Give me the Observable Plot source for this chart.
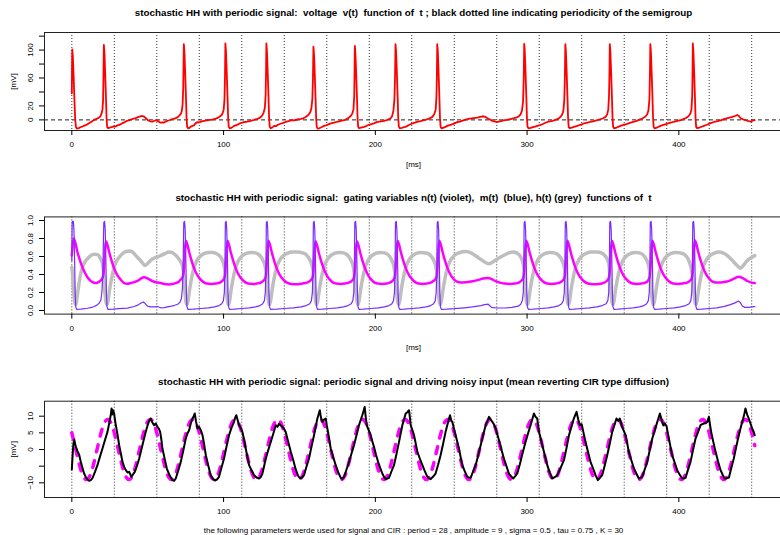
<!DOCTYPE html>
<html><head><meta charset="utf-8">
<script src="https://cdn.jsdelivr.net/npm/d3@7"></script>
<script src="https://cdn.jsdelivr.net/npm/@observablehq/plot@0.6"></script>
<style>
html,body{margin:0;padding:0;background:#fff;overflow:hidden;}
#root{position:relative;width:780px;height:535px;overflow:hidden;background:#fff;}
#root svg{position:absolute;left:0;}
svg text{white-space:pre;}
</style></head><body><div id="root"></div>
<script>
// ---------- data ----------
const periodLines = [0,28,56,84,112,140,168,196,224,252,280,308,336,364,392,420,448];
const xTicks = [0,100,200,300,400];

const voltageTicks = [0,20,40,60,80,100,120];
const voltageTickLabels = ["0","20","","60","","100",""];
const gatingTicks = [0,0.2,0.4,0.6,0.8,1.0];
const gatingTickLabels = ["0.0","0.2","0.4","0.6","0.8","1.0"];
const inputTicks = [-10,-5,0,5,10];
const inputTickLabels = ["\u221210","","0","5","10"];

const title1 = "stochastic HH with periodic signal:  voltage  v(t)  function of  t ; black dotted line indicating periodicity of the semigroup";
const title2 = "stochastic HH with periodic signal:  gating variables n(t) (violet),  m(t)  (blue), h(t) (grey)  functions of  t";
const title3 = "stochastic HH with periodic signal: periodic signal and driving noisy input (mean reverting CIR type diffusion)";
const caption3 = "the following parameters werde used for signal and CIR : period = 28 , amplitude = 9 , sigma = 0.5 , tau = 0.75 , K = 30";

// voltage v(t) [t (ms), mV]
const voltage = [
[0,38],[0.15,75],[0.3,101],[0.7,90],[1.2,62],[1.7,30],[2.2,2],[2.7,-10],[3.3,-12.5],[4.5,-11.8],[6,-10.2],[7,-9.5],[8.2,-8.3],[9.2,-7.5],[10.3,-6.2],[11.5,-4.5],[12.6,-3.2],[13.6,-1.5],[14.7,0],[15.8,1],[17,2.2],[18,3.4],[18.9,5.5],[19.6,9],[20.2,15],[20.6,28],[20.85,60],[21.1,107.5],[21.5,96],[22,66],[22.5,32],[22.9,2],[23.3,-10],[23.9,-11.8],
[25,-11],[26.2,-10.5],[27.5,-9.2],[28.6,-9.6],[30,-8],[31.2,-7.2],[32.3,-6],[33.5,-4.6],[34.5,-3.6],[35.6,-2.2],[36.7,-1.2],[38,-0.2],[39.3,0.8],[41,2],[42.5,3],[44,4.2],[45.4,5.2],[46.5,5.6],[47.6,4.6],[48.8,2.5],[50.3,-0.8],[51.7,-2],[53.1,-2.6],[54.5,-1.2],[55.6,-0.3],[56.5,-1.5],[57.5,-2.8],[58.6,-4],[59.7,-3.4],[60.8,-3.8],[62.2,-2],[63.2,-1.2],[64.2,-0.5],[65.5,0.6],[67,1.5],[68.5,2.5],[69.8,4],[70.8,6],[71.8,8.5],[72.5,13],[73,22],[73.4,45],[73.8,108.5],[74.2,97],[74.7,68],[75.2,34],[75.6,3],[76,-10],[76.6,-12.2],
[77.5,-11.5],[78.5,-9.5],[79.5,-8.5],[80.5,-7.8],[81.5,-5],[82.8,-3.2],[84,-3.6],[85.5,-2.2],[87.2,-1.4],[89,-0.8],[91,0],[92.5,0.4],[93.8,1.2],[95.3,2.2],[96.8,3.6],[98.2,5.8],[99.3,9],[100.1,15],[100.6,30],[100.95,65],[101.2,109.5],[101.6,97],[102.1,67],[102.6,33],[103,3],[103.4,-10],[104,-12],
[105,-11.5],[106,-10],[106.9,-8.6],[108.5,-7.5],[110,-6],[111.2,-4.5],[112.4,-3.8],[114,-3],[115.5,-2.6],[117.9,-1.4],[119.5,-0.5],[121,0.6],[122.3,1.5],[123.4,2.4],[124.5,4],[125.5,6.5],[126.4,10.5],[127.2,17],[127.7,35],[128,70],[128.2,109.5],[128.6,97],[129.1,67],[129.6,33],[130,3],[130.4,-10],[131,-12],
[132,-11],[133.3,-8.6],[134.5,-9],[135.8,-7],[137.5,-5.5],[139.8,-3.8],[141.5,-2.5],[143.5,-1.5],[144.8,-0.4],[146.4,-0.6],[148,0.2],[149.7,1],[151.2,1.6],[152.8,2.6],[154,4],[155.2,5.8],[156.4,8.5],[157.3,12],[157.9,17],[158.5,30],[158.9,60],[159.2,105],[159.6,94],[160.1,65],[160.6,32],[161,2],[161.4,-10],[162,-12.5],
[163,-12],[164.5,-10.5],[166.2,-8.6],[167.5,-8],[169,-6.5],[170.8,-5],[172.8,-3.8],[174.5,-3],[176.2,-2],[177.8,-1.2],[179.4,-0.5],[180.8,0.8],[182.2,2.5],[183.8,5.5],[184.8,9],[185.6,15],[186.1,35],[186.5,106],[186.9,94],[187.4,65],[187.9,32],[188.3,2],[188.7,-10],[189.3,-12],
[190.5,-11],[192.5,-10],[194,-8.8],[195.8,-7],[197.5,-6],[199.1,-5],[200.8,-3.2],[202.5,-2.5],[204,-2],[205.7,-1.4],[207.5,-0.2],[209,1],[210.1,2.4],[211,5],[211.9,13],[212.6,30],[213,65],[213.3,108.5],[213.7,97],[214.2,67],[214.7,33],[215.1,3],[215.5,-10],[216.1,-12],
[217.5,-11.5],[218.8,-10.5],[220,-10],[221.5,-8],[223.2,-6.2],[225.5,-4.3],[227.5,-3],[229.8,-1.8],[232,-0.5],[234,0.8],[235.8,2.2],[237.6,4.3],[238.8,8],[239.8,15],[240.3,35],[240.6,70],[240.8,108.5],[241.2,97],[241.7,67],[242.2,33],[242.6,3],[243,-10],[243.6,-12.2],
[245,-11],[246.2,-10],[247.4,-8.6],[249,-7.5],[250.5,-6.4],[252.3,-5],[254,-3],[255.8,-2.5],[257.5,-1],[259,0],[260.6,1],[262.5,1.8],[264.5,2.6],[266,3],[267.2,3.3],[268.5,4],[270,4.8],[271.1,5.2],[272.4,4.4],[273.8,2.4],[275.5,0.5],[277.1,-1.4],[278.8,-2.4],[280.4,-3],[282,-2.2],[283.5,-1.5],[284.7,-0.5],[286.5,0],[288.2,0.8],[289.8,1.6],[291.3,2.4],[293,3.4],[294.5,5],[295.7,8],[296.6,13],[297.3,25],[297.8,60],[298.1,109],[298.5,97],[299,67],[299.5,33],[299.9,3],[300.3,-10],[300.9,-12],
[302.3,-11.5],[303.8,-10.5],[305.3,-9.5],[306.7,-8.6],[308.5,-7.5],[310,-6.2],[311.7,-4.5],[313.3,-3],[315,-2.2],[316.8,-1.5],[318.3,-0.2],[319.9,1],[321.2,2.8],[322.3,5],[323.2,8],[323.9,13],[324.5,28],[324.9,60],[325.2,108.5],[325.6,97],[326.1,67],[326.6,33],[327,3],[327.4,-10],[328,-11.8],
[329.5,-11],[331.3,-9.8],[333.1,-8.6],[335,-7],[337,-5.5],[339.7,-3.8],[341.5,-3],[343.5,-2],[346.3,-0.5],[348,0.8],[349.8,2],[351.7,4.3],[352.8,8],[353.5,15],[354,35],[354.3,70],[354.5,108.5],[354.9,97],[355.4,67],[355.9,33],[356.3,3],[356.7,-10],[357.3,-12.2],
[359,-11],[360.3,-9.6],[361.6,-8.6],[363.5,-7.2],[365.5,-6],[368.2,-3.8],[370,-3],[372.2,-1.5],[374.8,1],[376.5,2.8],[378,4.8],[379.2,8],[380,14],[380.6,30],[380.95,65],[381.2,108.5],[381.6,97],[382.1,67],[382.6,33],[383,3],[383.4,-10],[384,-12.2],
[385.5,-11.2],[386.8,-9.6],[388,-8.6],[389.8,-7],[392,-5.6],[394.6,-3.8],[396.5,-3],[398.5,-1.8],[401.1,-0.5],[403,1],[405,3],[406.6,5.8],[407.6,9],[408.3,15],[408.8,35],[409.05,70],[409.2,109.5],[409.6,97],[410.1,67],[410.6,33],[411,3],[411.4,-10],[412,-11.8],
[413.5,-11],[415,-9.8],[416.5,-8.6],[418.5,-7],[420.5,-5],[423.1,-3],[425,-2.2],[427.5,-0.8],[429.7,1],[431.5,2],[433.5,3.2],[435.2,4.3],[437,5.6],[438.5,7],[439.6,5.5],[440.7,2.4],[442.3,0.8],[444,-0.5],[445.5,-1.5],[447.2,-2.4],[448.5,-1.2],[450,-0.5]
];

// gating variable n(t) (magenta)
const gateN = [
[0,0.61],[0.6,0.73],[1.3,0.80],[2.2,0.76],[3.7,0.65],[5.3,0.56],[7,0.48],[8.6,0.42],[10.3,0.37],[12,0.335],[13.6,0.315],[15.5,0.305],[17,0.31],[18.5,0.325],[19.8,0.35],[20.6,0.38],
[21.1,0.44],[21.7,0.63],[22.4,0.77],[23.3,0.74],[24.6,0.65],[26.1,0.56],[28.1,0.46],[30.1,0.39],[32.1,0.345],[34.5,0.305],[36.5,0.298],[38.9,0.305],[41,0.315],[43.3,0.33],[45.5,0.355],[47.6,0.37],[49.5,0.36],[51,0.345],[54.2,0.32],[56.5,0.31],[58.6,0.305],[61,0.295],[64.1,0.29],[66.5,0.295],[68.5,0.305],[70.5,0.32],[71.8,0.345],[73,0.37],
[73.8,0.44],[74.4,0.63],[75.1,0.775],[76,0.74],[77.3,0.65],[78.8,0.56],[80.8,0.46],[82.8,0.39],[84.8,0.345],[86.8,0.315],[88.8,0.30],[92,0.295],[95,0.30],[97.5,0.31],[99.2,0.33],[100.5,0.36],
[101.2,0.44],[101.8,0.63],[102.5,0.775],[103.4,0.74],[104.7,0.65],[106.2,0.56],[108.2,0.46],[110.2,0.39],[112.2,0.345],[114.2,0.315],[116.2,0.30],[119,0.295],[122,0.30],[124.5,0.31],[126.2,0.33],[127.5,0.36],
[128.2,0.44],[128.8,0.63],[129.5,0.775],[130.4,0.74],[131.7,0.65],[133.2,0.56],[135.2,0.46],[137.2,0.39],[139.2,0.345],[141.2,0.315],[143.2,0.30],[146,0.293],[149,0.293],[152,0.30],[155,0.31],[157,0.33],[158.5,0.36],
[159.2,0.44],[159.8,0.63],[160.5,0.77],[161.4,0.735],[162.7,0.645],[164.2,0.555],[166.2,0.455],[168.2,0.385],[170.2,0.34],[172.2,0.31],[174.2,0.30],[177,0.295],[180,0.30],[182.5,0.31],[184.5,0.33],[185.8,0.36],
[186.5,0.44],[187.1,0.63],[187.8,0.77],[188.7,0.735],[190,0.645],[191.5,0.555],[193.5,0.455],[195.5,0.385],[197.5,0.34],[199.5,0.31],[201.5,0.30],[204.5,0.295],[207.5,0.30],[209.5,0.31],[211.3,0.33],[212.6,0.36],
[213.3,0.44],[213.9,0.63],[214.6,0.775],[215.5,0.74],[216.8,0.65],[218.3,0.56],[220.3,0.46],[222.3,0.39],[224.3,0.345],[226.3,0.315],[228.3,0.30],[231,0.295],[234,0.30],[236.5,0.31],[238.5,0.33],[240.1,0.36],
[240.8,0.44],[241.4,0.63],[242.1,0.775],[243,0.74],[244.3,0.65],[245.8,0.56],[247.8,0.46],[249.8,0.39],[251.8,0.345],[253.8,0.32],[256.4,0.31],[260,0.315],[264,0.325],[268,0.34],[271,0.355],[274.4,0.36],[276.5,0.35],[278.8,0.33],[282,0.31],[285.4,0.30],[289,0.295],[292,0.30],[294.5,0.31],[296.2,0.33],[297.4,0.36],
[298.1,0.44],[298.7,0.63],[299.4,0.775],[300.3,0.74],[301.6,0.65],[303.1,0.56],[305.1,0.46],[307.1,0.39],[309.1,0.345],[311.1,0.315],[313.1,0.30],[316,0.295],[319,0.30],[321.5,0.31],[323.3,0.33],[324.5,0.36],
[325.2,0.44],[325.8,0.63],[326.5,0.775],[327.4,0.74],[328.7,0.65],[330.2,0.56],[332.2,0.46],[334.2,0.39],[336.2,0.345],[338.2,0.315],[340.2,0.30],[343.5,0.293],[347,0.295],[350,0.305],[352.3,0.325],[353.8,0.36],
[354.5,0.44],[355.1,0.63],[355.8,0.775],[356.7,0.74],[358,0.65],[359.5,0.56],[361.5,0.46],[363.5,0.39],[365.5,0.345],[367.5,0.315],[369.5,0.30],[372.5,0.295],[375.5,0.30],[378,0.31],[379.6,0.33],[380.5,0.36],
[381.2,0.44],[381.8,0.63],[382.5,0.775],[383.4,0.74],[384.7,0.65],[386.2,0.56],[388.2,0.46],[390.2,0.39],[392.2,0.345],[394.2,0.315],[396.2,0.30],[399.5,0.295],[402.5,0.30],[405.5,0.31],[407.3,0.33],[408.5,0.36],
[409.2,0.44],[409.8,0.63],[410.5,0.78],[411.4,0.745],[412.7,0.655],[414.2,0.565],[416.2,0.465],[418.2,0.395],[420.2,0.35],[422.2,0.32],[424.5,0.31],[427.5,0.31],[431,0.32],[434,0.335],[437,0.36],[439.5,0.375],[441.5,0.365],[443.5,0.345],[445.5,0.325],[448,0.31],[450,0.305]
];

// gating variable m(t) (blue-violet)
const gateM = [
[0,0.55],[0.2,0.95],[0.4,0.99],[1,0.99],[1.4,0.9],[1.8,0.6],[2.2,0.2],[2.6,0.04],[3.2,0.012],[6,0.015],[10.3,0.025],[13,0.035],[14.7,0.044],[16.5,0.06],[18,0.08],[19.2,0.12],[19.9,0.22],[20.5,0.45],[20.85,0.8],[21.1,0.98],[21.6,0.99],[22,0.9],[22.4,0.6],[22.8,0.2],[23.2,0.04],[23.8,0.013],
[27,0.015],[31,0.02],[36.7,0.026],[41,0.044],[43.5,0.06],[45.4,0.08],[47,0.095],[48.2,0.08],[49.8,0.048],[52,0.04],[54.2,0.04],[56.4,0.044],[58.6,0.03],[61,0.032],[63,0.04],[65.5,0.048],[67.4,0.055],[69.8,0.07],[71.2,0.09],[72.2,0.13],[72.9,0.25],[73.4,0.55],[73.7,0.9],[73.8,0.98],[74.3,0.99],[74.7,0.9],[75.1,0.6],[75.5,0.2],[75.9,0.04],[76.5,0.013],
[80,0.015],[85,0.022],[90,0.03],[94,0.04],[97,0.055],[98.8,0.075],[99.9,0.11],[100.5,0.2],[100.9,0.45],[101.1,0.85],[101.2,0.98],[101.7,0.99],[102.1,0.9],[102.5,0.6],[102.9,0.2],[103.3,0.04],[103.9,0.013],
[107,0.015],[112,0.022],[117,0.03],[121,0.04],[124,0.055],[125.8,0.075],[126.9,0.11],[127.5,0.2],[127.9,0.45],[128.1,0.85],[128.2,0.98],[128.7,0.99],[129.1,0.9],[129.5,0.6],[129.9,0.2],[130.3,0.04],[130.9,0.013],
[135,0.015],[140,0.022],[146,0.03],[151,0.04],[154.5,0.055],[156.8,0.075],[157.9,0.11],[158.5,0.2],[158.9,0.45],[159.1,0.85],[159.2,0.98],[159.7,0.99],[160.1,0.9],[160.5,0.6],[160.9,0.2],[161.3,0.04],[161.9,0.013],
[165,0.015],[170,0.022],[175,0.03],[179,0.04],[182,0.055],[184.1,0.075],[185.2,0.11],[185.8,0.2],[186.2,0.45],[186.4,0.85],[186.5,0.98],[187,0.99],[187.4,0.9],[187.8,0.6],[188.2,0.2],[188.6,0.04],[189.2,0.013],
[192,0.015],[197,0.022],[202,0.03],[206,0.04],[209,0.055],[210.9,0.075],[212,0.11],[212.6,0.2],[213,0.45],[213.2,0.85],[213.3,0.98],[213.8,0.99],[214.2,0.9],[214.6,0.6],[215,0.2],[215.4,0.04],[216,0.013],
[219,0.015],[224,0.022],[229,0.03],[233.5,0.04],[236.5,0.055],[238.4,0.075],[239.5,0.11],[240.1,0.2],[240.5,0.45],[240.7,0.85],[240.8,0.98],[241.3,0.99],[241.7,0.9],[242.1,0.6],[242.5,0.2],[242.9,0.04],[243.5,0.013],
[247,0.015],[252,0.02],[258.6,0.03],[264,0.04],[269.6,0.055],[272,0.065],[274.4,0.07],[275.6,0.05],[276.6,0.035],[280,0.028],[285.4,0.028],[290,0.035],[294.2,0.048],[295.8,0.07],[296.9,0.11],[297.5,0.2],[297.8,0.45],[298,0.85],[298.1,0.98],[298.6,0.99],[299,0.9],[299.4,0.6],[299.8,0.2],[300.2,0.04],[300.8,0.013],
[304,0.015],[309,0.022],[314,0.03],[318,0.04],[321,0.055],[322.8,0.075],[323.9,0.11],[324.5,0.2],[324.9,0.45],[325.1,0.85],[325.2,0.98],[325.7,0.99],[326.1,0.9],[326.5,0.6],[326.9,0.2],[327.3,0.04],[327.9,0.013],
[331,0.015],[336,0.022],[341,0.03],[346,0.04],[349.5,0.055],[352.1,0.075],[353.2,0.11],[353.8,0.2],[354.2,0.45],[354.4,0.85],[354.5,0.98],[355,0.99],[355.4,0.9],[355.8,0.6],[356.2,0.2],[356.6,0.04],[357.2,0.013],
[360,0.015],[365,0.022],[370,0.03],[374,0.04],[377,0.055],[378.8,0.075],[379.9,0.11],[380.5,0.2],[380.9,0.45],[381.1,0.85],[381.2,0.98],[381.7,0.99],[382.1,0.9],[382.5,0.6],[382.9,0.2],[383.3,0.04],[383.9,0.013],
[387,0.015],[392,0.022],[397,0.03],[401,0.04],[404.5,0.055],[406.8,0.075],[407.9,0.11],[408.5,0.2],[408.9,0.45],[409.1,0.85],[409.2,0.98],[409.7,0.99],[410.1,0.9],[410.5,0.6],[410.9,0.2],[411.3,0.04],[411.9,0.013],
[415,0.015],[420,0.022],[425,0.03],[430,0.045],[434,0.065],[437,0.085],[439.2,0.105],[440.5,0.09],[441.8,0.05],[443.5,0.035],[446,0.035],[448,0.04],[450,0.042]
];

// gating variable h(t) (grey)
const gateH = [
[0,0.48],[0.4,0.42],[0.9,0.3],[1.5,0.16],[2.1,0.08],[2.6,0.065],[3.4,0.14],[4.2,0.24],[5.2,0.35],[7,0.48],[8.6,0.54],[10.3,0.575],[12,0.605],[13.6,0.62],[15.3,0.625],[16.9,0.62],[18.2,0.6],[19.1,0.57],[20.2,0.52],[20.8,0.45],[21.3,0.33],[21.9,0.18],[22.6,0.09],[23.2,0.065],[24,0.12],[24.8,0.22],[25.9,0.33],[27.9,0.48],[29.5,0.55],[31.2,0.59],[33.3,0.63],[35.6,0.655],[38,0.66],[40,0.65],[42.2,0.61],[44.4,0.57],[46.5,0.53],[48.1,0.50],[49.5,0.515],[50.9,0.54],[53,0.57],[55.3,0.59],[57,0.6],[58.6,0.61],[61,0.63],[64.1,0.65],[65.8,0.645],[67.4,0.63],[69,0.605],[70.7,0.57],[72,0.535],[72.9,0.5],[73.5,0.43],[74,0.33],[74.6,0.19],[75.3,0.09],[75.9,0.065],[76.7,0.12],[77.5,0.22],[78.6,0.33],[80.6,0.48],[82.6,0.56],[85,0.61],[87.5,0.635],[90,0.645],[93,0.645],[95.5,0.63],[97.5,0.605],[98.9,0.57],[100,0.52],[100.7,0.46],[101.4,0.33],[102,0.19],[102.7,0.09],[103.3,0.065],[104.1,0.12],[104.9,0.22],[106,0.33],[108,0.48],[110,0.56],[112.4,0.61],[115,0.635],[118,0.645],[121,0.64],[123,0.625],[124.9,0.59],[126.2,0.55],[127.3,0.5],[127.9,0.44],[128.4,0.33],[129,0.19],[129.7,0.09],[130.3,0.065],[131.1,0.12],[131.9,0.22],[133,0.33],[135,0.48],[137,0.56],[139.4,0.61],[142,0.635],[145,0.65],[149,0.65],[152,0.64],[154.5,0.62],[156.3,0.58],[157.5,0.54],[158.4,0.49],[159.1,0.42],[159.5,0.33],[160.1,0.19],[160.8,0.09],[161.4,0.065],[162.2,0.12],[163,0.22],[164.1,0.33],[166.1,0.48],[168.1,0.56],[170.5,0.61],[173,0.635],[176,0.645],[179,0.64],[181,0.625],[182.9,0.59],[184.2,0.55],[185.3,0.5],[185.9,0.44],[186.7,0.33],[187.3,0.19],[188,0.09],[188.6,0.065],[189.4,0.12],[190.2,0.22],[191.3,0.33],[193.3,0.48],[195.3,0.56],[197.7,0.61],[200.3,0.635],[203.3,0.645],[206,0.64],[208,0.625],[209.8,0.59],[211.1,0.55],[212.1,0.5],[212.7,0.44],[213.5,0.33],[214.1,0.19],[214.8,0.09],[215.4,0.065],[216.2,0.12],[217,0.22],[218.1,0.33],[220.1,0.48],[222.1,0.56],[224.5,0.61],[227,0.635],[230,0.645],[233.5,0.64],[235.5,0.625],[237.4,0.59],[238.7,0.55],[239.7,0.5],[240.3,0.44],[241,0.33],[241.6,0.19],[242.3,0.09],[242.9,0.065],[243.7,0.12],[244.5,0.22],[245.6,0.33],[247.6,0.48],[249.6,0.56],[252,0.61],[255,0.64],[259.7,0.655],[263,0.64],[265,0.62],[268,0.585],[271,0.55],[274.4,0.52],[276.5,0.53],[278.8,0.555],[282,0.59],[285.4,0.62],[288,0.64],[290.8,0.65],[293,0.64],[295.2,0.61],[296.5,0.57],[297.4,0.52],[298,0.44],[298.4,0.33],[299,0.19],[299.7,0.09],[300.3,0.065],[301.1,0.12],[301.9,0.22],[303,0.33],[305,0.48],[307,0.56],[309.4,0.61],[312,0.635],[315,0.645],[318,0.64],[320,0.625],[321.9,0.59],[323.2,0.55],[324.2,0.5],[324.8,0.44],[325.4,0.33],[326,0.19],[326.7,0.09],[327.3,0.065],[328.1,0.12],[328.9,0.22],[330,0.33],[332,0.48],[334,0.56],[336.4,0.61],[339,0.635],[342,0.65],[346,0.65],[349,0.64],[351,0.615],[352.5,0.58],[353.5,0.54],[354.2,0.47],[354.7,0.33],[355.3,0.19],[356,0.09],[356.6,0.065],[357.4,0.12],[358.2,0.22],[359.3,0.33],[361.3,0.48],[363.3,0.56],[365.7,0.61],[368.3,0.635],[371.3,0.645],[374,0.64],[376,0.625],[377.8,0.59],[379.1,0.55],[380.1,0.5],[380.7,0.44],[381.4,0.33],[382,0.19],[382.7,0.09],[383.3,0.065],[384.1,0.12],[384.9,0.22],[386,0.33],[388,0.48],[390,0.56],[392.4,0.61],[395,0.635],[398,0.645],[401,0.64],[403.5,0.625],[405.4,0.59],[406.7,0.55],[407.7,0.5],[408.5,0.44],[409.4,0.33],[410,0.19],[410.7,0.09],[411.3,0.065],[412.1,0.12],[412.9,0.22],[414,0.33],[416,0.48],[418,0.56],[420.4,0.61],[423,0.635],[426.4,0.65],[429,0.64],[432,0.61],[435,0.56],[438.4,0.5],[440.6,0.47],[442.5,0.5],[444.8,0.55],[447.5,0.585],[450,0.61]
];

// periodic signal (magenta dashed), sampled every 2 ms from t = 0
const signalStepMs = 2;
const signalValues = [
5,1.2,-2.7,-6.2,-8.4,-9,-7.8,-5,-1.2,2.7,6.2,8.4,9,7.8,
5,1.2,-2.7,-6.2,-8.4,-9,-7.8,-5,-1.2,2.7,6.2,8.4,9,7.8,
5,1.2,-2.7,-6.2,-8.4,-9,-7.8,-5,-1.2,2.7,6.2,8.4,9,7.8,
5,1.2,-2.7,-6.2,-8.4,-9,-7.8,-5,-1.2,2.7,6.2,8.4,9,7.8,
5,1.2,-2.7,-6.2,-8.4,-9,-7.8,-5,-1.2,2.7,6.2,8.4,9,7.8,
5,1.2,-2.7,-6.2,-8.4,-9,-7.8,-5,-1.2,2.7,6.2,8.4,9,7.8,
5,1.2,-2.7,-6.2,-8.4,-9,-7.8,-5,-1.2,2.7,6.2,8.4,9,7.8,
5,1.2,-2.7,-6.2,-8.4,-9,-7.8,-5,-1.2,2.7,6.2,8.4,9,7.8,
5,1.2,-2.7,-6.2,-8.4,-9,-7.8,-5,-1.2,2.7,6.2,8.4,9,7.8,
5,1.2,-2.7,-6.2,-8.4,-9,-7.8,-5,-1.2,2.7,6.2,8.4,9,7.8,
5,1.2,-2.7,-6.2,-8.4,-9,-7.8,-5,-1.2,2.7,6.2,8.4,9,7.8,
5,1.2,-2.7,-6.2,-8.4,-9,-7.8,-5,-1.2,2.7,6.2,8.4,9,7.8,
5,1.2,-2.7,-6.2,-8.4,-9,-7.8,-5,-1.2,2.7,6.2,8.4,9,7.8,
5,1.2,-2.7,-6.2,-8.4,-9,-7.8,-5,-1.2,2.7,6.2,8.4,9,7.8,
5,1.2,-2.7,-6.2,-8.4,-9,-7.8,-5,-1.2,2.7,6.2,8.4,9,7.8,
5,1.2,-2.7,-6.2,-8.4,-9,-7.8,-5,-1.2,2.7,6.2,8.4,9,7.8,
5,1.2
];

// driving noisy input (black) [t, mV]
const noisyInput = [
[0,-6],[0.5,-2],[1,1.5],[1.6,3],[2.5,1],[3.7,-0.5],[4.8,-1.5],[5.9,-3.7],[7,-5.5],[8.1,-7.2],[9.5,-8.5],[11.4,-9.4],[12.5,-9.2],[13.6,-8.6],[15.2,-6.8],[16.9,-4.7],[18.5,-2.2],[20.2,0.3],[21.8,2.8],[23.5,5.3],[24.6,7.8],[25.3,9.5],[25.7,10.5],[26.2,12.3],[26.6,10.5],[27.1,11.8],[27.9,10.8],[28.4,9],[29,7.3],[30.1,4.5],[31.2,1.3],[32.3,-1.2],[33.4,-3.7],[34.5,-5.2],[35.6,-6.2],[36.7,-6.9],[37.8,-6.7],[39.3,-8.2],[40.4,-7.4],[41.5,-6.7],[43,-4.8],[44.4,-2.7],[46,0.3],[47.6,3.3],[49,5.8],[50.3,7.8],[51.2,8.8],[52,9.3],[53,8.2],[54.2,7.3],[55.3,7.8],[56.4,6.8],[57.4,6.2],[58.2,5.3],[59,3],[59.7,0.3],[61.2,-2.8],[62.6,-5.7],[64.5,-7.8],[66.3,-9.2],[67.4,-9.4],[68.5,-8.7],[70.2,-6.2],[71.8,-3.7],[73.5,-0.2],[75.1,3.3],[76.2,4.8],[77.3,5.8],[78.4,7.8],[79.5,9.3],[80.3,10],[81,10.8],[81.8,8.5],[82.8,6.3],[83.9,6.8],[85,5.8],[86.1,4.3],[87.2,1.5],[88.3,-1.7],[89.9,-4.8],[91.5,-7.7],[92.8,-8.7],[94.2,-9.3],[95.6,-9],[97,-8.2],[98.6,-5.5],[100.3,-2.7],[101.9,0.8],[103.6,4.3],[105.2,6.5],[106.9,8.3],[107.6,9.5],[108.4,10.3],[109.3,8.8],[110.2,7.3],[111.3,6.5],[112.4,5.3],[113.5,3],[114.6,0.3],[115.7,-2.3],[116.8,-4.7],[118.4,-6.2],[120.1,-7.7],[121.8,-8.4],[123.4,-8.7],[124.5,-8.3],[125.6,-7.2],[126.7,-5],[127.8,-2.7],[129.4,-0.2],[131.1,2.3],[132.8,4.8],[134.4,7.3],[135.5,6.8],[136.6,7.8],[137.7,7.2],[138.8,6.8],[139.9,6.2],[140.9,5.3],[142.5,2.5],[144.2,-0.5],[145.8,-3],[147.5,-5.9],[149,-7.8],[150.4,-8.7],[151.7,-8.4],[153,-7.7],[154.6,-5.2],[156.3,-2.7],[157.9,0.8],[159.6,4.3],[160.7,6.8],[161.8,9.3],[162.6,10.5],[163.4,11.8],[164.2,9.5],[165.1,8.3],[166.2,9],[167.3,9.3],[168,7.3],[168.8,5.3],[169.7,2.8],[170.6,0.3],[172.2,-2.2],[173.9,-4.7],[175.5,-6.8],[177.2,-8.5],[178.3,-8.8],[179.4,-8.2],[181,-6],[182.7,-3.7],[184.3,-1.2],[185.9,1.3],[187.6,4.3],[189.2,7.3],[190.3,8.8],[191.4,10.3],[192.2,11.5],[193,12.8],[193.6,10],[194.3,7.3],[195.6,5.8],[196.9,4.3],[198,2.5],[199.1,0.8],[200.4,-1.5],[201.8,-3.7],[203.2,-5.5],[204.6,-7.2],[205.7,-8.2],[206.8,-8.9],[207.9,-8.7],[209,-8.5],[210.6,-6.6],[212.3,-4.7],[214,-1.2],[215.6,2.3],[216.7,4.8],[217.8,7.3],[218.9,9],[220,10.8],[221.1,11.2],[222.2,11.8],[222.8,9.5],[223.3,7.3],[224.4,5.8],[225.5,4.3],[226.6,1.8],[227.7,-0.7],[229.3,-2.7],[231,-4.7],[232.6,-6.5],[234.3,-8.2],[235.4,-8.6],[236.5,-8.9],[238.1,-8.1],[239.7,-7.2],[241.4,-4.5],[243,-1.7],[244.7,1.8],[246.3,5.3],[247.7,7.8],[249.2,10.3],[250,8.8],[250.7,8.3],[251.8,6.3],[252.9,4.3],[254,2.3],[255.1,0.3],[256.2,-2.2],[257.3,-4.7],[258.9,-6.5],[260.6,-8.2],[261.7,-8.4],[262.8,-8.5],[264.4,-6.6],[266.1,-4.7],[267.8,-1.7],[269.4,1.3],[271,4.3],[272.7,7.3],[273.8,8.5],[274.9,9.8],[276,9],[277.1,8.3],[278.2,7.5],[279.3,6.3],[280.4,4.5],[281.5,2.8],[283.1,0],[284.7,-2.7],[286.4,-5],[288,-7.2],[289.4,-8],[290.8,-8.7],[292.2,-8],[293.5,-7.2],[295.2,-4.5],[296.8,-1.5],
[299,2.3],[300.6,4.8],[302.3,7.3],[303.4,9],[304.5,10.8],[305.6,9.8],[306.7,9.3],[307.3,7],[307.8,5.3],[309,3.3],[310,1.3],[311.7,-1.7],[313.3,-4.7],[315,-7],[316.6,-8.7],[318.2,-8.3],[319.9,-7.7],[322.1,-5.5],[324.3,-3.2],[326,0.5],[327.6,4.3],[329.2,6.8],[330.8,9.3],[331.7,10.3],[332.6,11.3],[333.7,9],[334.8,7.3],[336,7.6],[337.2,5],[338.5,2.3],[340.1,-0.7],[341.8,-3.7],[343.5,-5.7],[345.1,-7.7],[346.6,-9.2],[348,-8.5],[349.5,-7.7],[351.2,-4.7],[352.8,-1.7],[354.5,1.8],[356.1,5.3],[357.5,7.3],[358.9,9.3],[360,8.6],[361.1,9.3],[361.9,8],[362.6,6.8],[363.8,5.5],[364.9,4.3],[366,1.8],[367,-0.7],[368.7,-3.2],[370.4,-5.7],[372,-7.2],[373.6,-8.7],[374.7,-8.5],[375.8,-8.2],[377.5,-6],[379.2,-3.7],[380.8,-0.2],[382.5,3.3],[384.2,5.8],[385.8,8.3],[386.7,9.6],[387.5,10.8],[388.6,9],[389.7,7.3],[390.8,7.8],[391.9,7],[392.6,5.2],[393.4,3.3],[394.5,0.8],[395.6,-1.7],[397.3,-4],[398.9,-6.2],[400.5,-7.5],[402.2,-8.7],[403.3,-8.6],[404.4,-8.5],[406,-6.1],[407.7,-3.7],[409.3,-0.2],[411,3.3],[412.7,5.3],[414.3,7.3],[415.4,7.6],[416.5,7.8],[417.6,8],[418.7,8.3],[419.8,9.8],[420.5,7.5],[421.3,5.3],[422.7,2.3],[424.2,-0.7],[425.8,-3.5],[427.5,-6.2],[428.8,-7.5],[430.1,-8.7],[431.5,-8.6],[433,-8.4],[434.6,-5.5],[436.2,-2.7],[437.8,0.8],[439.5,4.3],[440.9,6.8],[442.4,9.3],[443.2,10.8],[443.9,12.3],[445,10.5],[446.1,9.3],[447.2,7.8],[448.3,6.3],[449.4,5.2],[450,4.3]
];

// ---------- drawing ----------
const FONT = "'Liberation Sans', Arial, Helvetica, sans-serif";
const signal = signalValues.map((v, i) => ({t: i * signalStepMs, v}));

function panel(o) {
  const marks = [
    Plot.ruleX(periodLines, {stroke: "#333", strokeWidth: 1, strokeDasharray: "1,2"}),
    ...o.marks,
    Plot.frame({stroke: "#222", strokeWidth: 1}),
    Plot.axisX({ticks: xTicks, tickSize: 5, tickPadding: 6, fontSize: 8, label: null, tickFormat: d => String(d)}),
    Plot.axisY({ticks: o.yTicks, tickSize: 5, label: null, tickFormat: () => ""}),
    Plot.text(o.yTicks, {y: d => d, text: (d, i) => o.yLabels[i], frameAnchor: "left", dx: -14, rotate: -90, textAnchor: "middle", lineAnchor: "middle", fontSize: 8}),
    Plot.text([o.title], {text: d => d, frameAnchor: "top", dy: o.titleDy, lineAnchor: "middle", fontWeight: "bold", fontSize: 9.8})
  ];
  if (o.xlabel) marks.push(Plot.text([o.xlabel], {text: d => d, frameAnchor: "bottom", dy: o.xlabelDy, lineAnchor: "middle", fontSize: 8}));
  if (o.ylabel) marks.push(Plot.text([o.ylabel], {text: d => d, frameAnchor: "left", dx: -31, rotate: -90, textAnchor: "middle", lineAnchor: "middle", fontSize: 8}));
  const svg = Plot.plot({
    width: 782, height: o.height,
    marginLeft: 44, marginRight: 0, marginTop: o.mt, marginBottom: o.mb,
    style: {fontFamily: FONT, fontSize: "8px", color: "black", background: "transparent", maxWidth: "none", overflow: "visible"},
    x: {domain: [-18, 468.3]},
    y: {domain: o.yDomain},
    marks
  });
  svg.style.top = o.top + "px";
  document.getElementById("root").appendChild(svg);
}

panel({
  top: 0, height: 178, mt: 32, mb: 48,
  yDomain: [-15.2, 125.2], yTicks: voltageTicks, yLabels: voltageTickLabels,
  title: title1, titleDy: -19.3, xlabel: "[ms]", xlabelDy: 34.3, ylabel: "[mV]",
  marks: [
    Plot.ruleY([0], {stroke: "#222", strokeDasharray: "4,3"}),
    Plot.line(voltage, {x: d => d[0], y: d => d[1], stroke: "#ff0000", strokeWidth: 1.8})
  ]
});

panel({
  top: 178, height: 178, mt: 38.4, mb: 42.4,
  yDomain: [-0.04, 1.04], yTicks: gatingTicks, yLabels: gatingTickLabels,
  title: title2, titleDy: -19.1, xlabel: "[ms]", xlabelDy: 33.1,
  marks: [
    Plot.line(gateH, {x: d => d[0], y: d => d[1], stroke: "#bebebe", strokeWidth: 3.5, curve: "monotone-x"}),
    Plot.line(gateN, {x: d => d[0], y: d => d[1], stroke: "#ff00ff", strokeWidth: 2.5, curve: "monotone-x"}),
    Plot.line(gateM, {x: d => d[0], y: d => d[1], stroke: "#7a2cff", strokeWidth: 1.2})
  ]
});

panel({
  top: 356, height: 179, mt: 44.7, mb: 38,
  yDomain: [-14.4, 14.5], yTicks: inputTicks, yLabels: inputTickLabels,
  title: title3, titleDy: -19, xlabel: caption3, xlabelDy: 33, ylabel: "[mV]",
  marks: [
    Plot.line(signal, {x: "t", y: "v", stroke: "#ff00ff", strokeWidth: 3.5, strokeDasharray: "7,9", curve: "natural"}),
    Plot.line(noisyInput, {x: d => d[0], y: d => d[1], stroke: "black", strokeWidth: 2})
  ]
});
</script></body></html>
